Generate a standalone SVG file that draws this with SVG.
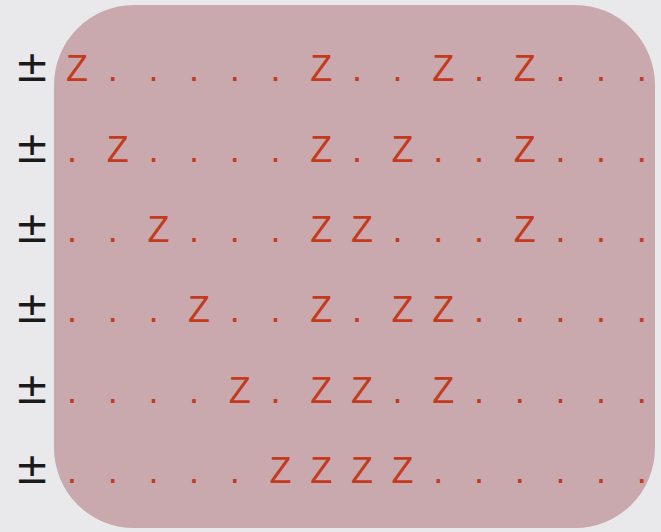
<svg xmlns="http://www.w3.org/2000/svg" width="661" height="532" viewBox="0 0 661 532">
<style>
.pm{font-family:"DejaVu Sans",sans-serif;font-size:42px;fill:#1a1a1a;text-anchor:middle}
.z{font-family:"Liberation Sans",Arial,sans-serif;font-size:36px;fill:#c33a1d;text-anchor:middle}
.d{font-family:"Liberation Sans",Arial,sans-serif;font-size:36px;fill:#c33a1d;text-anchor:middle}
</style>
<rect width="661" height="532" fill="#e9e9eb"/>
<rect id="panel" x="54" y="5" width="601" height="523" rx="80" ry="80" fill="#c9a9ad"/>
<g id="signs">
<text class="pm" x="32" y="81">±</text>
<text class="pm" x="32" y="161.5">±</text>
<text class="pm" x="32" y="242">±</text>
<text class="pm" x="32" y="322">±</text>
<text class="pm" x="32" y="402.5">±</text>
<text class="pm" x="32" y="483">±</text>
</g>
<g id="row1">
<text class="z" x="77" y="81">Z</text>
<text class="d" x="112.7" y="81">.</text><text class="d" x="153.4" y="81">.</text><text class="d" x="194.1" y="81">.</text><text class="d" x="234.8" y="81">.</text><text class="d" x="275.5" y="81">.</text>
<text class="z" x="321.2" y="81">Z</text>
<text class="d" x="356.9" y="81">.</text><text class="d" x="397.6" y="81">.</text>
<text class="z" x="443.3" y="81">Z</text>
<text class="d" x="479" y="81">.</text>
<text class="z" x="524.7" y="81">Z</text>
<text class="d" x="560.4" y="81">.</text><text class="d" x="601.1" y="81">.</text><text class="d" x="641.8" y="81">.</text>
</g>
<g id="row2">
<text class="d" x="72" y="161.5">.</text>
<text class="z" x="117.7" y="161.5">Z</text>
<text class="d" x="153.4" y="161.5">.</text><text class="d" x="194.1" y="161.5">.</text><text class="d" x="234.8" y="161.5">.</text><text class="d" x="275.5" y="161.5">.</text>
<text class="z" x="321.2" y="161.5">Z</text>
<text class="d" x="356.9" y="161.5">.</text>
<text class="z" x="402.6" y="161.5">Z</text>
<text class="d" x="438.3" y="161.5">.</text><text class="d" x="479" y="161.5">.</text>
<text class="z" x="524.7" y="161.5">Z</text>
<text class="d" x="560.4" y="161.5">.</text><text class="d" x="601.1" y="161.5">.</text><text class="d" x="641.8" y="161.5">.</text>
</g>
<g id="row3">
<text class="d" x="72" y="242">.</text><text class="d" x="112.7" y="242">.</text>
<text class="z" x="158.4" y="242">Z</text>
<text class="d" x="194.1" y="242">.</text><text class="d" x="234.8" y="242">.</text><text class="d" x="275.5" y="242">.</text>
<text class="z" x="321.2" y="242">Z</text>
<text class="z" x="361.9" y="242">Z</text>
<text class="d" x="397.6" y="242">.</text><text class="d" x="438.3" y="242">.</text><text class="d" x="479" y="242">.</text>
<text class="z" x="524.7" y="242">Z</text>
<text class="d" x="560.4" y="242">.</text><text class="d" x="601.1" y="242">.</text><text class="d" x="641.8" y="242">.</text>
</g>
<g id="row4">
<text class="d" x="72" y="322">.</text><text class="d" x="112.7" y="322">.</text><text class="d" x="153.4" y="322">.</text>
<text class="z" x="199.1" y="322">Z</text>
<text class="d" x="234.8" y="322">.</text><text class="d" x="275.5" y="322">.</text>
<text class="z" x="321.2" y="322">Z</text>
<text class="d" x="356.9" y="322">.</text>
<text class="z" x="402.6" y="322">Z</text>
<text class="z" x="443.3" y="322">Z</text>
<text class="d" x="479" y="322">.</text><text class="d" x="519.7" y="322">.</text><text class="d" x="560.4" y="322">.</text><text class="d" x="601.1" y="322">.</text><text class="d" x="641.8" y="322">.</text>
</g>
<g id="row5">
<text class="d" x="72" y="402.5">.</text><text class="d" x="112.7" y="402.5">.</text><text class="d" x="153.4" y="402.5">.</text><text class="d" x="194.1" y="402.5">.</text>
<text class="z" x="239.8" y="402.5">Z</text>
<text class="d" x="275.5" y="402.5">.</text>
<text class="z" x="321.2" y="402.5">Z</text>
<text class="z" x="361.9" y="402.5">Z</text>
<text class="d" x="397.6" y="402.5">.</text>
<text class="z" x="443.3" y="402.5">Z</text>
<text class="d" x="479" y="402.5">.</text><text class="d" x="519.7" y="402.5">.</text><text class="d" x="560.4" y="402.5">.</text><text class="d" x="601.1" y="402.5">.</text><text class="d" x="641.8" y="402.5">.</text>
</g>
<g id="row6">
<text class="d" x="72" y="483">.</text><text class="d" x="112.7" y="483">.</text><text class="d" x="153.4" y="483">.</text><text class="d" x="194.1" y="483">.</text><text class="d" x="234.8" y="483">.</text>
<text class="z" x="280.5" y="483">Z</text>
<text class="z" x="321.2" y="483">Z</text>
<text class="z" x="361.9" y="483">Z</text>
<text class="z" x="402.6" y="483">Z</text>
<text class="d" x="438.3" y="483">.</text><text class="d" x="479" y="483">.</text><text class="d" x="519.7" y="483">.</text><text class="d" x="560.4" y="483">.</text><text class="d" x="601.1" y="483">.</text><text class="d" x="641.8" y="483">.</text>
</g>
</svg>
